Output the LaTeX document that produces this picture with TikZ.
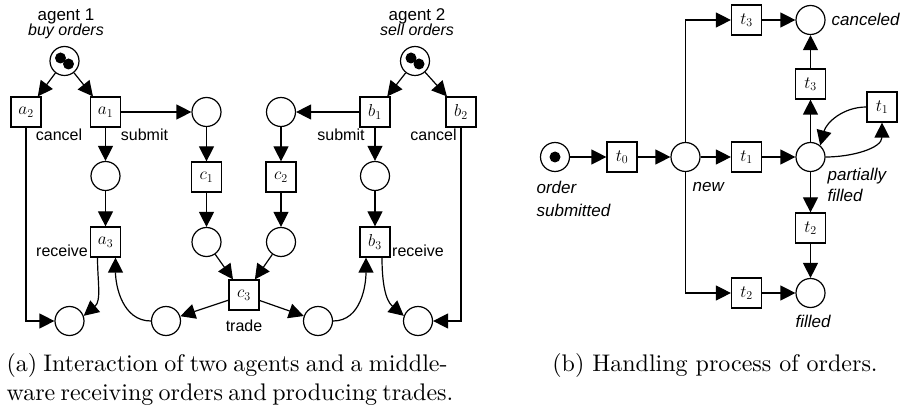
\documentclass[tikz,border=0pt]{standalone}
\usepackage{fontspec}
\newfontfamily\lblfont{Liberation Sans}
\newfontfamily\capfont{lmroman10-regular}[Extension=.otf]
\usetikzlibrary{arrows.meta}

\begin{document}
\begin{tikzpicture}[x=1pt,y=1pt,
  line width=1.2pt,
  place/.style={circle,draw,minimum size=29pt,inner sep=0pt},
  trans/.style={rectangle,draw,minimum width=30pt,minimum height=30pt,inner sep=0pt,
    font=\fontsize{17}{17}\selectfont},
  arc/.style={-{Triangle[length=15pt,width=15pt]}},
  lbl/.style={font=\lblfont\fontsize{16}{16}\selectfont,inner sep=0pt,anchor=base},
  ttl/.style={font=\lblfont\fontsize{17}{17}\selectfont,inner sep=0pt,anchor=base},
  ittl/.style={font=\lblfont\itshape\fontsize{16}{16}\selectfont,inner sep=0pt,anchor=base},
  ilbl/.style={font=\lblfont\itshape\fontsize{17}{17}\selectfont,inner sep=0pt,anchor=base west},
  captext/.style={font=\capfont\fontsize{24}{28}\selectfont,inner sep=0pt},
  token/.style={fill=black}
]
\useasboundingbox (0,0) rectangle (902,407);

% ---------------- (a) two agents and the middleware ----------------
\node[place] (ag1) at (64.5,346) {};
\node[place] (ag2) at (415,346) {};
\fill[token] ([shift={(-4,3)}]ag1.center) circle (5.5);
\fill[token] ([shift={(4,-3)}]ag1.center) circle (5.5);
\fill[token] ([shift={(-4,3)}]ag2.center) circle (5.5);
\fill[token] ([shift={(4,-3)}]ag2.center) circle (5.5);
\node[ttl] (ag1t) at (66,386) {agent 1};
\node[ittl] (ag1s) at (66,371) {buy orders};
\node[ttl] (ag2t) at (417,386) {agent 2};
\node[ittl] (ag2s) at (417,371) {sell orders};

\node[trans] (a2) at (26,295) {$a_2$};
\node[trans] (a1) at (105.5,295) {$a_1$};
\node[place] (p1) at (206.5,295) {};
\node[place] (p2) at (281,295) {};
\node[trans] (b1) at (375,295) {$b_1$};
\node[trans] (b2) at (461,295) {$b_2$};

\node[place] (pa) at (105.5,231) {};
\node[trans] (c1) at (206.5,230) {$c_1$};
\node[trans] (c2) at (281,230) {$c_2$};
\node[place] (pb) at (375,231) {};

\node[trans] (a3) at (105.5,165) {$a_3$};
\node[place] (pc1) at (206.5,165) {};
\node[place] (pc2) at (281,165) {};
\node[trans] (b3) at (375,165) {$b_3$};

\node[trans] (c3) at (244,112) {$c_3$};

\node[place] (q1) at (69.5,86) {};
\node[place] (q2) at (166,86) {};
\node[place] (q3) at (318,86) {};
\node[place] (q4) at (418,86) {};

\node[lbl] (la2) at (59,266) {cancel};
\node[lbl] (la1) at (144.5,266) {submit};
\node[lbl] (lb1) at (341,266) {submit};
\node[lbl] (lb2) at (433.5,266) {cancel};
\node[lbl] (la3) at (62,150) {receive};
\node[lbl] (lb3) at (418,150) {receive};
\node[lbl] (lc3) at (244,75) {trade};

\draw[arc] (ag1) -- (a2);
\draw[arc] (ag1) -- (a1);
\draw[arc] (ag2) -- (b1);
\draw[arc] (ag2) -- (b2);
\draw[arc] (a1) -- (p1);
\draw[arc] (b1) -- (p2);
\draw[arc] (a1) -- (pa);
\draw[arc] (b1) -- (pb);
\draw[arc] (p1) -- (c1);
\draw[arc] (p2) -- (c2);
\draw[arc] (pa) -- (a3);
\draw[arc] (pb) -- (b3);
\draw[arc] (c1) -- (pc1);
\draw[arc] (c2) -- (pc2);
\draw[arc] (pc1) -- (c3);
\draw[arc] (pc2) -- (c3);
\draw[arc] (c3) -- (q2);
\draw[arc] (c3) -- (q3);
\draw[arc] (a2) |- (q1);
\draw[arc] (b2) |- (q4);
\draw[arc] ([xshift=-8]a3.south) to[out=-90,in=40] (q1.20);
\draw[arc] (q2.west) to[out=180,in=-90] ([xshift=10]a3.south);
\draw[arc] (q3.east) to[out=0,in=-90] ([xshift=-9]b3.south);
\draw[arc] ([xshift=7]b3.south) to[out=-90,in=140] (q4.160);

% ---------------- (b) life cycle of an order ----------------
\node[place] (os) at (555,250) {};
\fill[token] (os.center) circle (5.5);
\node[trans] (t0) at (622,250) {$t_0$};
\node[place] (new) at (685.5,250) {};
\node[trans] (t1a) at (746.5,250) {$t_1$};
\node[place] (pf) at (810.5,250) {};
\node[trans] (t1b) at (882,300) {$t_1$};
\node[trans] (t3b) at (810.5,323) {$t_3$};
\node[place] (canc) at (810.5,387) {};
\node[trans] (t3a) at (746.5,387) {$t_3$};
\node[trans] (t2b) at (810.5,179) {$t_2$};
\node[place] (fil) at (810.5,114) {};
\node[trans] (t2a) at (746.5,114) {$t_2$};

\node[ilbl] (lcanc) at (831,381) {canceled};
\node[ilbl] (lnew) at (692,215) {new};
\node[ilbl] (lpf1) at (827,226) {partially};
\node[ilbl] (lpf2) at (827,205) {filled};
\node[ilbl] (los1) at (536,213) {order};
\node[ilbl] (los2) at (536,190) {submitted};
\node[ilbl,anchor=base] (lfil) at (813,79) {filled};

\draw[arc] (os) -- (t0);
\draw[arc] (t0) -- (new);
\draw[arc] (new) -- (t1a);
\draw[arc] (t1a) -- (pf);
\draw[arc] (new) |- (t3a);
\draw[arc] (new) |- (t2a);
\draw[arc] (t3a) -- (canc);
\draw[arc] (t2a) -- (fil);
\draw[arc] (pf) -- (t3b);
\draw[arc] (t3b) -- (canc);
\draw[arc] (pf) -- (t2b);
\draw[arc] (t2b) -- (fil);
\draw[arc] (pf.east) to[out=0,in=-90] (t1b.south);
\draw[arc] (t1b.west) to[out=180,in=75] (pf.50);

% ---------------- captions ----------------
\node[captext,anchor=base west] (capa1) at (6,35)
  {\makebox[441pt][s]{(a) Interaction of two agents and a middle-}};
\node[captext,anchor=base west] (capa2) at (6,7)
  {\makebox[441pt][s]{ware receiving orders and producing trades.}};
\node[captext,anchor=base] (capb) at (715,35) {(b) Handling process of orders.};
\end{tikzpicture}
\end{document}
